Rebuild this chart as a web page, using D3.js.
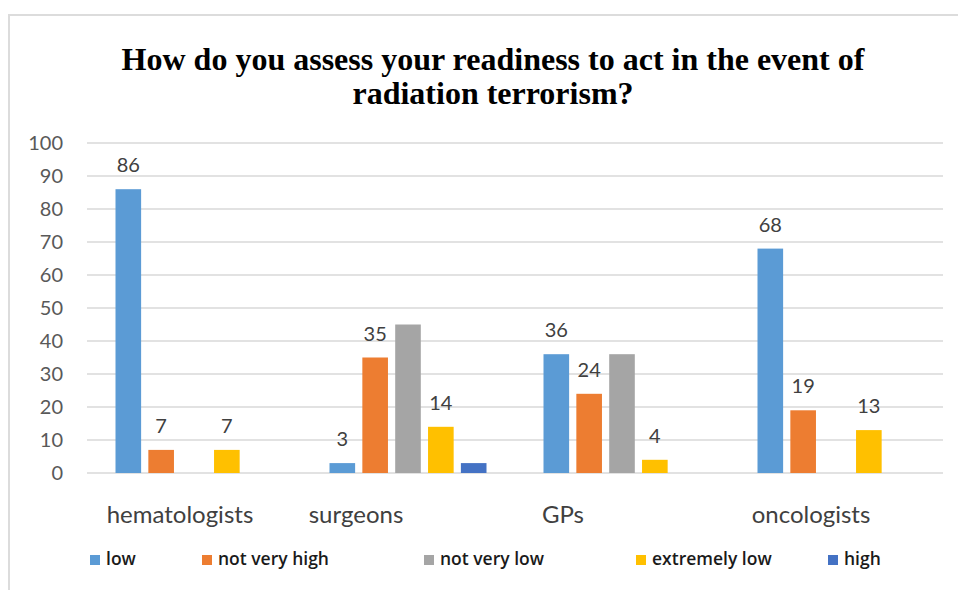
<!DOCTYPE html>
<html>
<head>
<meta charset="utf-8">
<script src="https://cdn.jsdelivr.net/npm/d3@7/dist/d3.min.js"></script>
<style>
  html, body { margin: 0; padding: 0; background: #fff; }
  svg { display: block; }
</style>
</head>
<body>
<svg id="chart" width="958" height="590"></svg>
<script>
// Survey answers by specialty (percent of respondents)
const categories = ["hematologists", "surgeons", "GPs", "oncologists"];
const seriesNames = ["low", "not very high", "not very low", "extremely low", "high"];
const lowValues          = [86, 3, 36, 68];
const notVeryHighValues  = [7, 35, 24, 19];
const notVeryLowValues   = [null, 45, 36, null];
const extremelyLowValues = [7, 14, 4, 13];
const highValues         = [null, 3, null, null];
const labelledSeries = ["low", "not very high", "extremely low"];
const yTicks = [0, 10, 20, 30, 40, 50, 60, 70, 80, 90, 100];
const titleLines = ["How do you assess your readiness to act in the event of", "radiation terrorism?"];

const seriesValues = [lowValues, notVeryHighValues, notVeryLowValues, extremelyLowValues, highValues];
const colors = ["#5b9bd5", "#ed7d31", "#a5a5a5", "#ffc000", "#4472c4"];

const svg = d3.select("#chart");

// chart frame
svg.append("path")
  .attr("d", "M9,592 L9,15 L960,15")
  .attr("fill", "none")
  .attr("stroke", "#dcdcdc")
  .attr("stroke-width", 2);

// title
const title = svg.append("text")
  .attr("text-anchor", "middle")
  .attr("font-family", "'Liberation Serif', 'Times New Roman', serif")
  .attr("font-weight", "bold")
  .attr("font-size", 32)
  .attr("fill", "#000");
title.selectAll("tspan").data(titleLines).join("tspan")
  .attr("x", 493)
  .attr("y", (d, i) => 70 + i * 34)
  .text(d => d);

// scales
const x0 = d3.scaleBand().domain(categories).range([87, 943]);
const x1 = d3.scaleBand().domain(seriesNames)
  .range([28.5, x0.bandwidth() - 28.5])
  .paddingInner(0.22);
const y = d3.scaleLinear().domain([0, 100]).range([473, 143]);
const color = d3.scaleOrdinal().domain(seriesNames).range(colors);

// gridlines
svg.append("g").selectAll("line").data(yTicks).join("line")
  .attr("x1", 87).attr("x2", 943)
  .attr("y1", d => y(d)).attr("y2", d => y(d))
  .attr("stroke", "#d9d9d9")
  .attr("stroke-width", 1.5);

// y axis labels
const yAxis = svg.append("g")
  .attr("transform", "translate(63,0)")
  .call(d3.axisLeft(y).tickValues(yTicks).tickSize(0).tickPadding(0));
yAxis.select(".domain").remove();
yAxis.selectAll("text")
  .attr("font-family", "Lato, 'Open Sans', sans-serif")
  .attr("font-size", 20)
  .attr("fill", "#595959");

// bars
const rows = [];
categories.forEach((c, ci) => {
  seriesNames.forEach((s, si) => {
    const v = seriesValues[si][ci];
    if (v !== null && v !== undefined) rows.push({ category: c, series: s, value: v });
  });
});

const groups = svg.append("g");
groups.selectAll("rect").data(rows).join("rect")
  .attr("x", d => x0(d.category) + x1(d.series))
  .attr("y", d => y(d.value))
  .attr("width", x1.bandwidth())
  .attr("height", d => y(0) - y(d.value))
  .attr("fill", d => color(d.series));

// value labels
groups.selectAll("text.val").data(rows.filter(d => labelledSeries.includes(d.series))).join("text")
  .attr("class", "val")
  .attr("x", d => x0(d.category) + x1(d.series) + x1.bandwidth() / 2)
  .attr("y", d => y(d.value) - 17)
  .attr("text-anchor", "middle")
  .attr("font-family", "Lato, 'Open Sans', sans-serif")
  .attr("font-size", 20)
  .attr("fill", "#404040")
  .text(d => d.value);

// category labels (shifted left of the group centres)
const labelShift = [-14, -52, -59, -25];
svg.append("g").selectAll("text").data(categories).join("text")
  .attr("x", (d, i) => x0(d) + x0.bandwidth() / 2 + labelShift[i])
  .attr("y", 523)
  .attr("text-anchor", "middle")
  .attr("font-family", "Lato, 'Open Sans', sans-serif")
  .attr("font-size", 24)
  .attr("fill", "#404040")
  .text(d => d);

// legend
const legendX = [90, 202, 424, 636, 828];
const legend = svg.append("g").selectAll("g").data(seriesNames).join("g")
  .attr("transform", (d, i) => `translate(${legendX[i]},555)`);
legend.append("rect")
  .attr("width", 10).attr("height", 10)
  .attr("fill", d => color(d));
legend.append("text")
  .attr("x", 16).attr("y", 10)
  .attr("font-family", "'Open Sans', Lato, sans-serif")
  .attr("font-weight", 600)
  .attr("font-size", 17.5)
  .attr("fill", "#1a1a1a")
  .text(d => d);
</script>
</body>
</html>
